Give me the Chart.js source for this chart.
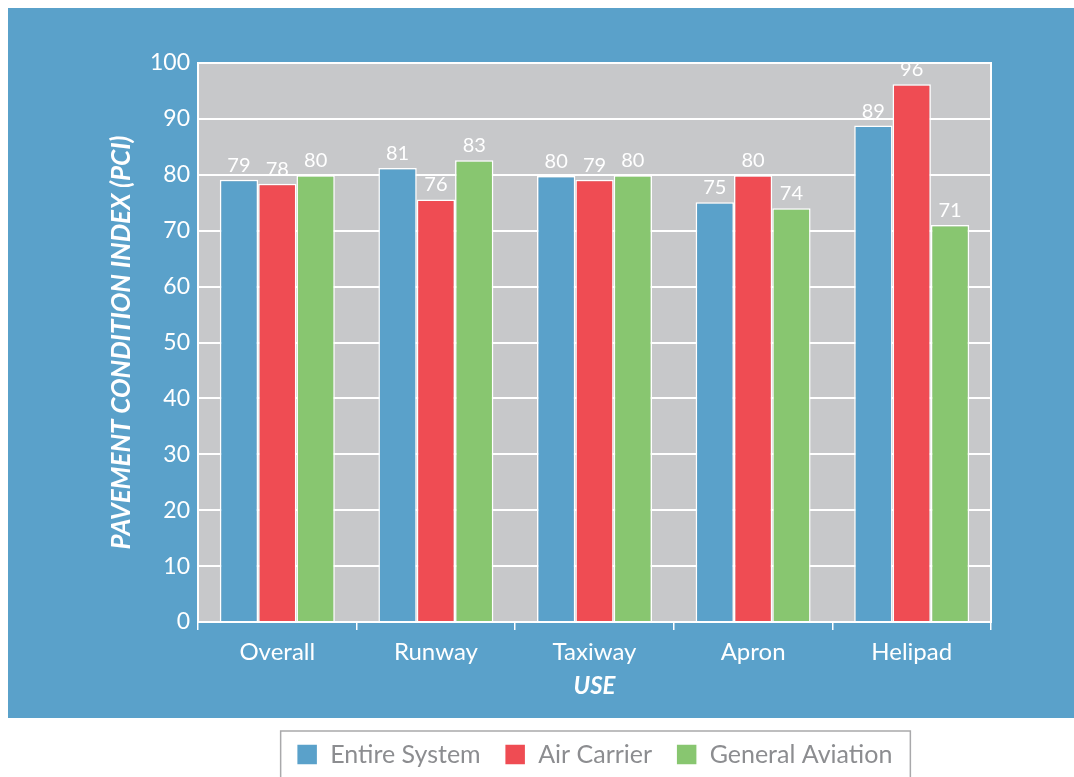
<!DOCTYPE html>
<html>
<head>
<meta charset="utf-8">
<script src="https://cdn.jsdelivr.net/npm/chart.js@4.4.1/dist/chart.umd.min.js"></script>
<style>
  html, body { margin: 0; padding: 0; background: #ffffff; }
  #wrap { width: 1074px; height: 777px; position: relative; }
</style>
</head>
<body>
<div id="wrap"><canvas id="pciChart"></canvas></div>
<script>
const categories = ['Overall', 'Runway', 'Taxiway', 'Apron', 'Helipad'];
const entireSystem = [79.1, 81.2, 79.8, 75.1, 88.8];
const airCarrier = [78.4, 75.6, 79.1, 79.9, 96.2];
const generalAviation = [79.9, 82.6, 79.9, 74.0, 71.0];
const yTicks = [0, 10, 20, 30, 40, 50, 60, 70, 80, 90, 100];

const panelBlue = '#5aa1ca';
const plotGray = '#c7c8ca';
const fontFamily = 'Lato, "Open Sans", sans-serif';

// blue panel + gray plot area behind everything
const backdrop = {
    id: 'backdrop',
    beforeDraw(chart) {
        const { ctx, chartArea } = chart;
        ctx.save();
        ctx.fillStyle = panelBlue;
        ctx.fillRect(8, 8, chart.width - 8, 710);
        ctx.fillStyle = plotGray;
        ctx.fillRect(chartArea.left, chartArea.top, chartArea.right - chartArea.left, chartArea.bottom - chartArea.top);
        ctx.restore();
    },
    beforeDatasetsDraw(chart) {
        const { ctx, chartArea } = chart;
        ctx.save();
        ctx.strokeStyle = '#ffffff';
        ctx.lineWidth = 2;
        ctx.strokeRect(chartArea.left, chartArea.top, chartArea.right - chartArea.left, chartArea.bottom - chartArea.top);
        ctx.restore();
    }
};

// value labels above the bars
const barValues = {
    id: 'barValues',
    afterDatasetsDraw(chart) {
        const { ctx } = chart;
        ctx.save();
        ctx.fillStyle = '#ffffff';
        ctx.font = '20px ' + fontFamily;
        ctx.textAlign = 'center';
        ctx.textBaseline = 'alphabetic';
        chart.data.datasets.forEach((ds, i) => {
            chart.getDatasetMeta(i).data.forEach((bar, j) => {
                ctx.fillText(Math.round(ds.data[j]), bar.x, bar.y - 8);
            });
        });
        ctx.restore();
    }
};

// grey frame around the legend
const legendFrame = {
    id: 'legendFrame',
    afterDraw(chart) {
        const boxes = chart.legend.legendHitBoxes;
        if (!boxes || !boxes.length) return;
        const first = boxes[0];
        const last = boxes[boxes.length - 1];
        const { ctx } = chart;
        ctx.save();
        ctx.strokeStyle = '#a9a9ab';
        ctx.lineWidth = 1.5;
        ctx.strokeRect(first.left - 16, first.top - 11, last.left + last.width + 18 - (first.left - 16), 80);
        ctx.restore();
    }
};

const ctx = document.getElementById('pciChart').getContext('2d');
new Chart(ctx, {
    type: 'bar',
    data: {
        labels: categories,
        datasets: [
            { label: 'Entire System', data: entireSystem, backgroundColor: '#5aa1ca', borderColor: '#ffffff', borderWidth: 1.5 },
            { label: 'Air Carrier', data: airCarrier, backgroundColor: '#ef4c53', borderColor: '#ffffff', borderWidth: 1.5 },
            { label: 'General Aviation', data: generalAviation, backgroundColor: '#88c670', borderColor: '#ffffff', borderWidth: 1.5 }
        ]
    },
    options: {
        responsive: true,
        maintainAspectRatio: false,
        animation: false,
        layout: { padding: { top: 63, right: 83, bottom: 0, left: 0 } },
        datasets: { bar: { categoryPercentage: 0.725, barPercentage: 1.0 } },
        plugins: {
            tooltip: { enabled: false },
            legend: {
                position: 'bottom',
                fullSize: false,
                labels: {
                    font: { family: fontFamily, size: 25 },
                    color: '#8c8d90',
                    boxWidth: 21,
                    boxHeight: 21,
                    padding: 24
                }
            }
        },
        scales: {
            x: {
                afterFit: scale => { scale.height = 96; },
                border: { display: false },
                grid: { offset: true, drawOnChartArea: false, drawTicks: true, tickLength: 8, color: '#ffffff', lineWidth: 1.5 },
                ticks: { color: '#ffffff', font: { family: fontFamily, size: 24 }, padding: 8 },
                title: {
                    display: true,
                    text: 'USE',
                    color: '#ffffff',
                    font: { family: fontFamily, size: 24, weight: 'bold', style: 'italic' },
                    padding: { top: 0, bottom: 17 }
                }
            },
            y: {
                min: 0,
                max: 100,
                afterFit: scale => { scale.width = 198; },
                afterBuildTicks: scale => { scale.ticks = yTicks.map(v => ({ value: v })); },
                border: { display: false },
                grid: { color: '#ffffff', lineWidth: 2, drawTicks: false },
                ticks: { color: '#ffffff', font: { family: fontFamily, size: 23 }, padding: 8 },
                title: {
                    display: true,
                    text: 'PAVEMENT CONDITION INDEX (PCI)',
                    color: '#ffffff',
                    font: { family: fontFamily, size: 26, weight: 'bold', style: 'italic' },
                    padding: { top: 106, bottom: 0 }
                }
            }
        }
    },
    plugins: [backdrop, barValues, legendFrame]
});
</script>
</body>
</html>
